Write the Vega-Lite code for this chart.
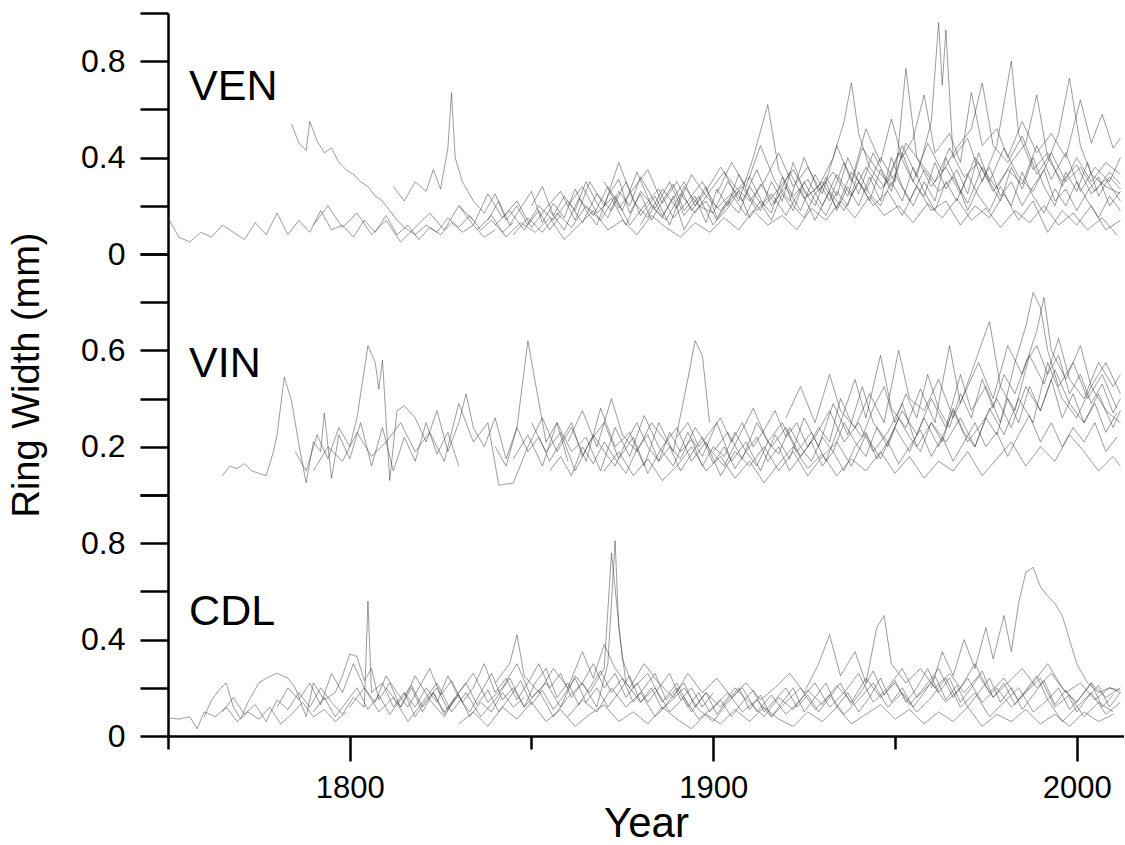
{
"$schema":"https://vega.github.io/schema/vega-lite/v6.json",
"background":"white",
"padding":{"left":8,"top":11,"right":0,"bottom":0},
"spacing":0,
"bounds":"flush",
"config":{"view":{"stroke":null},"line":{"color":"#3a3a3a","opacity":0.5,"strokeWidth":1},"axis":{"domainColor":"black","domainWidth":2.5,"tickColor":"black","tickWidth":2.5,"grid":false,"labelColor":"black","labelFont":"Liberation Sans","labelFontSize":32,"titleFont":"Liberation Sans","titleFontWeight":"normal","titleColor":"black"}},
"datasets":{
"ven":[
{"s":"a","t":1750,"v":0.15},{"s":"a","t":1753,"v":0.07},{"s":"a","t":1756,"v":0.05},{"s":"a","t":1759,"v":0.09},{"s":"a","t":1762,"v":0.07},{"s":"a","t":1765,"v":0.12},{"s":"a","t":1768,"v":0.09},{"s":"a","t":1771,"v":0.06},{"s":"a","t":1774,"v":0.13},{"s":"a","t":1777,"v":0.08},{"s":"a","t":1780,"v":0.17},{"s":"a","t":1783,"v":0.08},{"s":"a","t":1786,"v":0.14},{"s":"a","t":1789,"v":0.09},{"s":"a","t":1792,"v":0.18},{"s":"a","t":1795,"v":0.1},{"s":"a","t":1798,"v":0.12},{"s":"a","t":1801,"v":0.07},{"s":"a","t":1804,"v":0.14},{"s":"a","t":1807,"v":0.09},{"s":"a","t":1810,"v":0.16},{"s":"a","t":1813,"v":0.08},{"s":"a","t":1816,"v":0.12},{"s":"a","t":1819,"v":0.06},{"s":"a","t":1822,"v":0.11},{"s":"a","t":1825,"v":0.08},{"s":"a","t":1828,"v":0.13},{"s":"a","t":1831,"v":0.09},{"s":"a","t":1834,"v":0.12},{"s":"a","t":1837,"v":0.07},{"s":"a","t":1840,"v":0.1},
{"s":"b","t":1784,"v":0.54},{"s":"b","t":1786,"v":0.46},{"s":"b","t":1788,"v":0.43},{"s":"b","t":1789,"v":0.55},{"s":"b","t":1791,"v":0.47},{"s":"b","t":1793,"v":0.42},{"s":"b","t":1795,"v":0.44},{"s":"b","t":1797,"v":0.38},{"s":"b","t":1799,"v":0.35},{"s":"b","t":1801,"v":0.33},{"s":"b","t":1803,"v":0.3},{"s":"b","t":1805,"v":0.28},{"s":"b","t":1807,"v":0.24},{"s":"b","t":1809,"v":0.22},{"s":"b","t":1811,"v":0.18},{"s":"b","t":1813,"v":0.14},{"s":"b","t":1815,"v":0.11},{"s":"b","t":1818,"v":0.08},{"s":"b","t":1821,"v":0.12},{"s":"b","t":1824,"v":0.09},{"s":"b","t":1827,"v":0.15},{"s":"b","t":1830,"v":0.11},{"s":"b","t":1833,"v":0.16},{"s":"b","t":1836,"v":0.1},{"s":"b","t":1839,"v":0.14},{"s":"b","t":1842,"v":0.09},{"s":"b","t":1845,"v":0.13},
{"s":"c","t":1812,"v":0.28},{"s":"c","t":1815,"v":0.22},{"s":"c","t":1818,"v":0.3},{"s":"c","t":1821,"v":0.26},{"s":"c","t":1823,"v":0.35},{"s":"c","t":1825,"v":0.27},{"s":"c","t":1827,"v":0.44},{"s":"c","t":1828,"v":0.67},{"s":"c","t":1829,"v":0.4},{"s":"c","t":1831,"v":0.3},{"s":"c","t":1834,"v":0.22},{"s":"c","t":1837,"v":0.17},{"s":"c","t":1840,"v":0.25},{"s":"c","t":1843,"v":0.14},{"s":"c","t":1846,"v":0.2},{"s":"c","t":1849,"v":0.12},{"s":"c","t":1852,"v":0.18},{"s":"c","t":1855,"v":0.1},{"s":"c","t":1858,"v":0.16},
{"s":"d","t":1790,"v":0.12},{"s":"d","t":1794,"v":0.2},{"s":"d","t":1798,"v":0.11},{"s":"d","t":1802,"v":0.17},{"s":"d","t":1806,"v":0.08},{"s":"d","t":1810,"v":0.14},{"s":"d","t":1814,"v":0.05},{"s":"d","t":1818,"v":0.11},{"s":"d","t":1822,"v":0.17},{"s":"d","t":1826,"v":0.1},{"s":"d","t":1830,"v":0.2},{"s":"d","t":1834,"v":0.14},
{"s":"e","t":1840,"v":0.12},{"s":"e","t":1844,"v":0.18},{"s":"e","t":1848,"v":0.1},{"s":"e","t":1852,"v":0.2},{"s":"e","t":1856,"v":0.14},{"s":"e","t":1860,"v":0.22},{"s":"e","t":1864,"v":0.13},{"s":"e","t":1868,"v":0.25},{"s":"e","t":1872,"v":0.18},{"s":"e","t":1876,"v":0.3},{"s":"e","t":1880,"v":0.16},{"s":"e","t":1884,"v":0.24},{"s":"e","t":1888,"v":0.12},{"s":"e","t":1892,"v":0.28},{"s":"e","t":1896,"v":0.2},{"s":"e","t":1900,"v":0.17},{"s":"e","t":1904,"v":0.3},{"s":"e","t":1908,"v":0.22},{"s":"e","t":1912,"v":0.35},{"s":"e","t":1916,"v":0.2},{"s":"e","t":1920,"v":0.28},{"s":"e","t":1924,"v":0.18},{"s":"e","t":1928,"v":0.33},{"s":"e","t":1932,"v":0.22},{"s":"e","t":1936,"v":0.38},{"s":"e","t":1940,"v":0.25},{"s":"e","t":1944,"v":0.42},{"s":"e","t":1948,"v":0.3},{"s":"e","t":1952,"v":0.45},{"s":"e","t":1956,"v":0.32},{"s":"e","t":1960,"v":0.55},{"s":"e","t":1962,"v":0.96},{"s":"e","t":1963,"v":0.7},{"s":"e","t":1964,"v":0.93},{"s":"e","t":1966,"v":0.4},{"s":"e","t":1970,"v":0.48},{"s":"e","t":1974,"v":0.3},{"s":"e","t":1978,"v":0.45},{"s":"e","t":1982,"v":0.8},{"s":"e","t":1984,"v":0.5},{"s":"e","t":1988,"v":0.35},{"s":"e","t":1992,"v":0.42},{"s":"e","t":1996,"v":0.28},{"s":"e","t":2000,"v":0.4},{"s":"e","t":2004,"v":0.3},{"s":"e","t":2008,"v":0.38},{"s":"e","t":2012,"v":0.33},
{"s":"f","t":1830,"v":0.2},{"s":"f","t":1834,"v":0.12},{"s":"f","t":1838,"v":0.25},{"s":"f","t":1842,"v":0.15},{"s":"f","t":1846,"v":0.22},{"s":"f","t":1850,"v":0.11},{"s":"f","t":1854,"v":0.19},{"s":"f","t":1858,"v":0.26},{"s":"f","t":1862,"v":0.14},{"s":"f","t":1866,"v":0.3},{"s":"f","t":1870,"v":0.2},{"s":"f","t":1874,"v":0.38},{"s":"f","t":1878,"v":0.22},{"s":"f","t":1882,"v":0.15},{"s":"f","t":1886,"v":0.27},{"s":"f","t":1890,"v":0.19},{"s":"f","t":1894,"v":0.33},{"s":"f","t":1898,"v":0.24},{"s":"f","t":1902,"v":0.18},{"s":"f","t":1906,"v":0.26},{"s":"f","t":1910,"v":0.32},{"s":"f","t":1914,"v":0.2},{"s":"f","t":1918,"v":0.27},{"s":"f","t":1922,"v":0.35},{"s":"f","t":1926,"v":0.24},{"s":"f","t":1930,"v":0.3},{"s":"f","t":1934,"v":0.19},{"s":"f","t":1938,"v":0.34},{"s":"f","t":1942,"v":0.26},{"s":"f","t":1946,"v":0.4},{"s":"f","t":1950,"v":0.3},{"s":"f","t":1953,"v":0.77},{"s":"f","t":1956,"v":0.4},{"s":"f","t":1960,"v":0.28},{"s":"f","t":1964,"v":0.36},{"s":"f","t":1968,"v":0.25},{"s":"f","t":1972,"v":0.4},{"s":"f","t":1976,"v":0.3},{"s":"f","t":1980,"v":0.44},{"s":"f","t":1984,"v":0.32},{"s":"f","t":1988,"v":0.26},{"s":"f","t":1992,"v":0.38},{"s":"f","t":1995,"v":0.5},{"s":"f","t":1998,"v":0.73},{"s":"f","t":2001,"v":0.45},{"s":"f","t":2004,"v":0.33},{"s":"f","t":2008,"v":0.28},{"s":"f","t":2012,"v":0.25},
{"s":"g","t":1845,"v":0.08},{"s":"g","t":1849,"v":0.15},{"s":"g","t":1853,"v":0.09},{"s":"g","t":1857,"v":0.17},{"s":"g","t":1861,"v":0.11},{"s":"g","t":1865,"v":0.2},{"s":"g","t":1869,"v":0.14},{"s":"g","t":1873,"v":0.24},{"s":"g","t":1877,"v":0.12},{"s":"g","t":1881,"v":0.2},{"s":"g","t":1885,"v":0.27},{"s":"g","t":1889,"v":0.15},{"s":"g","t":1893,"v":0.22},{"s":"g","t":1897,"v":0.3},{"s":"g","t":1901,"v":0.19},{"s":"g","t":1905,"v":0.25},{"s":"g","t":1909,"v":0.16},{"s":"g","t":1913,"v":0.29},{"s":"g","t":1917,"v":0.21},{"s":"g","t":1921,"v":0.34},{"s":"g","t":1925,"v":0.23},{"s":"g","t":1929,"v":0.28},{"s":"g","t":1933,"v":0.4},{"s":"g","t":1936,"v":0.55},{"s":"g","t":1938,"v":0.71},{"s":"g","t":1940,"v":0.5},{"s":"g","t":1943,"v":0.36},{"s":"g","t":1947,"v":0.28},{"s":"g","t":1951,"v":0.42},{"s":"g","t":1955,"v":0.3},{"s":"g","t":1959,"v":0.46},{"s":"g","t":1963,"v":0.34},{"s":"g","t":1967,"v":0.44},{"s":"g","t":1971,"v":0.52},{"s":"g","t":1974,"v":0.71},{"s":"g","t":1977,"v":0.45},{"s":"g","t":1981,"v":0.38},{"s":"g","t":1985,"v":0.49},{"s":"g","t":1989,"v":0.33},{"s":"g","t":1993,"v":0.42},{"s":"g","t":1997,"v":0.3},{"s":"g","t":2001,"v":0.36},{"s":"g","t":2005,"v":0.26},{"s":"g","t":2009,"v":0.34},{"s":"g","t":2012,"v":0.29},
{"s":"h","t":1855,"v":0.18},{"s":"h","t":1859,"v":0.1},{"s":"h","t":1863,"v":0.23},{"s":"h","t":1867,"v":0.16},{"s":"h","t":1871,"v":0.28},{"s":"h","t":1875,"v":0.18},{"s":"h","t":1879,"v":0.34},{"s":"h","t":1883,"v":0.2},{"s":"h","t":1887,"v":0.14},{"s":"h","t":1891,"v":0.25},{"s":"h","t":1895,"v":0.17},{"s":"h","t":1899,"v":0.26},{"s":"h","t":1903,"v":0.34},{"s":"h","t":1907,"v":0.22},{"s":"h","t":1911,"v":0.4},{"s":"h","t":1915,"v":0.62},{"s":"h","t":1918,"v":0.35},{"s":"h","t":1922,"v":0.24},{"s":"h","t":1926,"v":0.31},{"s":"h","t":1930,"v":0.2},{"s":"h","t":1934,"v":0.33},{"s":"h","t":1938,"v":0.24},{"s":"h","t":1942,"v":0.36},{"s":"h","t":1946,"v":0.27},{"s":"h","t":1950,"v":0.33},{"s":"h","t":1954,"v":0.22},{"s":"h","t":1958,"v":0.35},{"s":"h","t":1962,"v":0.26},{"s":"h","t":1966,"v":0.32},{"s":"h","t":1970,"v":0.21},{"s":"h","t":1974,"v":0.36},{"s":"h","t":1978,"v":0.27},{"s":"h","t":1982,"v":0.38},{"s":"h","t":1986,"v":0.46},{"s":"h","t":1989,"v":0.66},{"s":"h","t":1992,"v":0.4},{"s":"h","t":1996,"v":0.3},{"s":"h","t":2000,"v":0.37},{"s":"h","t":2004,"v":0.25},{"s":"h","t":2008,"v":0.31},{"s":"h","t":2012,"v":0.22},
{"s":"i","t":1870,"v":0.3},{"s":"i","t":1874,"v":0.19},{"s":"i","t":1878,"v":0.27},{"s":"i","t":1882,"v":0.35},{"s":"i","t":1886,"v":0.21},{"s":"i","t":1890,"v":0.3},{"s":"i","t":1894,"v":0.18},{"s":"i","t":1898,"v":0.26},{"s":"i","t":1902,"v":0.36},{"s":"i","t":1906,"v":0.28},{"s":"i","t":1910,"v":0.22},{"s":"i","t":1914,"v":0.3},{"s":"i","t":1918,"v":0.42},{"s":"i","t":1922,"v":0.28},{"s":"i","t":1926,"v":0.36},{"s":"i","t":1930,"v":0.25},{"s":"i","t":1934,"v":0.45},{"s":"i","t":1938,"v":0.3},{"s":"i","t":1942,"v":0.52},{"s":"i","t":1946,"v":0.38},{"s":"i","t":1949,"v":0.56},{"s":"i","t":1952,"v":0.4},{"s":"i","t":1955,"v":0.48},{"s":"i","t":1958,"v":0.66},{"s":"i","t":1961,"v":0.42},{"s":"i","t":1965,"v":0.5},{"s":"i","t":1968,"v":0.38},{"s":"i","t":1971,"v":0.67},{"s":"i","t":1974,"v":0.45},{"s":"i","t":1978,"v":0.52},{"s":"i","t":1981,"v":0.4},{"s":"i","t":1985,"v":0.55},{"s":"i","t":1989,"v":0.42},{"s":"i","t":1993,"v":0.5},{"s":"i","t":1997,"v":0.4},{"s":"i","t":2001,"v":0.64},{"s":"i","t":2004,"v":0.46},{"s":"i","t":2007,"v":0.58},{"s":"i","t":2010,"v":0.44},{"s":"i","t":2012,"v":0.48},
{"s":"j","t":1835,"v":0.1},{"s":"j","t":1839,"v":0.16},{"s":"j","t":1843,"v":0.07},{"s":"j","t":1847,"v":0.13},{"s":"j","t":1851,"v":0.09},{"s":"j","t":1855,"v":0.15},{"s":"j","t":1859,"v":0.06},{"s":"j","t":1863,"v":0.12},{"s":"j","t":1867,"v":0.18},{"s":"j","t":1871,"v":0.1},{"s":"j","t":1875,"v":0.14},{"s":"j","t":1879,"v":0.08},{"s":"j","t":1883,"v":0.16},{"s":"j","t":1887,"v":0.11},{"s":"j","t":1891,"v":0.07},{"s":"j","t":1895,"v":0.13},{"s":"j","t":1899,"v":0.09},{"s":"j","t":1903,"v":0.15},{"s":"j","t":1907,"v":0.1},{"s":"j","t":1911,"v":0.18},{"s":"j","t":1915,"v":0.12},{"s":"j","t":1919,"v":0.16},{"s":"j","t":1923,"v":0.1},{"s":"j","t":1927,"v":0.19},{"s":"j","t":1931,"v":0.14},{"s":"j","t":1935,"v":0.22},{"s":"j","t":1939,"v":0.15},{"s":"j","t":1943,"v":0.24},{"s":"j","t":1947,"v":0.16},{"s":"j","t":1951,"v":0.2},{"s":"j","t":1955,"v":0.13},{"s":"j","t":1959,"v":0.21},{"s":"j","t":1963,"v":0.15},{"s":"j","t":1967,"v":0.23},{"s":"j","t":1971,"v":0.14},{"s":"j","t":1975,"v":0.19},{"s":"j","t":1979,"v":0.11},{"s":"j","t":1983,"v":0.18},{"s":"j","t":1987,"v":0.13},{"s":"j","t":1991,"v":0.2},{"s":"j","t":1995,"v":0.12},{"s":"j","t":1999,"v":0.17},{"s":"j","t":2003,"v":0.1},{"s":"j","t":2007,"v":0.15},{"s":"j","t":2011,"v":0.08},
{"s":"k","t":1860,"v":0.2},{"s":"k","t":1864,"v":0.28},{"s":"k","t":1868,"v":0.17},{"s":"k","t":1872,"v":0.23},{"s":"k","t":1876,"v":0.12},{"s":"k","t":1880,"v":0.26},{"s":"k","t":1884,"v":0.19},{"s":"k","t":1888,"v":0.3},{"s":"k","t":1892,"v":0.16},{"s":"k","t":1896,"v":0.24},{"s":"k","t":1900,"v":0.12},{"s":"k","t":1904,"v":0.21},{"s":"k","t":1908,"v":0.28},{"s":"k","t":1912,"v":0.18},{"s":"k","t":1916,"v":0.25},{"s":"k","t":1920,"v":0.16},{"s":"k","t":1924,"v":0.27},{"s":"k","t":1928,"v":0.14},{"s":"k","t":1932,"v":0.26},{"s":"k","t":1936,"v":0.18},{"s":"k","t":1940,"v":0.3},{"s":"k","t":1944,"v":0.2},{"s":"k","t":1948,"v":0.26},{"s":"k","t":1952,"v":0.16},{"s":"k","t":1956,"v":0.28},{"s":"k","t":1960,"v":0.18},{"s":"k","t":1964,"v":0.22},{"s":"k","t":1968,"v":0.12},{"s":"k","t":1972,"v":0.2},{"s":"k","t":1976,"v":0.15},{"s":"k","t":1980,"v":0.25},{"s":"k","t":1984,"v":0.14},{"s":"k","t":1988,"v":0.22},{"s":"k","t":1992,"v":0.09},{"s":"k","t":1996,"v":0.18},{"s":"k","t":2000,"v":0.12},{"s":"k","t":2004,"v":0.2},{"s":"k","t":2008,"v":0.1},{"s":"k","t":2012,"v":0.14},
{"s":"l","t":1901,"v":0.25},{"s":"l","t":1905,"v":0.38},{"s":"l","t":1909,"v":0.28},{"s":"l","t":1913,"v":0.45},{"s":"l","t":1917,"v":0.3},{"s":"l","t":1921,"v":0.22},{"s":"l","t":1925,"v":0.4},{"s":"l","t":1929,"v":0.26},{"s":"l","t":1933,"v":0.34},{"s":"l","t":1937,"v":0.24},{"s":"l","t":1941,"v":0.44},{"s":"l","t":1945,"v":0.35},{"s":"l","t":1949,"v":0.28},{"s":"l","t":1953,"v":0.46},{"s":"l","t":1957,"v":0.38},{"s":"l","t":1961,"v":0.3},{"s":"l","t":1965,"v":0.44},{"s":"l","t":1969,"v":0.32},{"s":"l","t":1973,"v":0.38},{"s":"l","t":1977,"v":0.26},{"s":"l","t":1981,"v":0.35},{"s":"l","t":1985,"v":0.29},{"s":"l","t":1989,"v":0.45},{"s":"l","t":1993,"v":0.31},{"s":"l","t":1997,"v":0.42},{"s":"l","t":2001,"v":0.26},{"s":"l","t":2005,"v":0.36},{"s":"l","t":2009,"v":0.3},{"s":"l","t":2012,"v":0.4},
{"s":"m","t":1838,"v":0.14},{"s":"m","t":1841,"v":0.22},{"s":"m","t":1844,"v":0.12},{"s":"m","t":1847,"v":0.19},{"s":"m","t":1850,"v":0.26},{"s":"m","t":1853,"v":0.13},{"s":"m","t":1856,"v":0.21},{"s":"m","t":1859,"v":0.15},{"s":"m","t":1862,"v":0.27},{"s":"m","t":1865,"v":0.18},{"s":"m","t":1868,"v":0.12},{"s":"m","t":1871,"v":0.24},{"s":"m","t":1874,"v":0.31},{"s":"m","t":1877,"v":0.17},{"s":"m","t":1880,"v":0.25},{"s":"m","t":1883,"v":0.14},{"s":"m","t":1886,"v":0.22},{"s":"m","t":1889,"v":0.29},{"s":"m","t":1892,"v":0.18},{"s":"m","t":1895,"v":0.24},{"s":"m","t":1898,"v":0.13},{"s":"m","t":1901,"v":0.27},{"s":"m","t":1904,"v":0.2},{"s":"m","t":1907,"v":0.33},{"s":"m","t":1910,"v":0.24},{"s":"m","t":1913,"v":0.18},{"s":"m","t":1916,"v":0.3},{"s":"m","t":1919,"v":0.22},{"s":"m","t":1922,"v":0.38},{"s":"m","t":1925,"v":0.26},{"s":"m","t":1928,"v":0.2},{"s":"m","t":1931,"v":0.32},{"s":"m","t":1934,"v":0.24},{"s":"m","t":1937,"v":0.4},{"s":"m","t":1940,"v":0.3},{"s":"m","t":1943,"v":0.22},{"s":"m","t":1946,"v":0.35},{"s":"m","t":1949,"v":0.26},{"s":"m","t":1952,"v":0.42},{"s":"m","t":1955,"v":0.3},{"s":"m","t":1958,"v":0.24},{"s":"m","t":1961,"v":0.38},{"s":"m","t":1964,"v":0.27},{"s":"m","t":1967,"v":0.35},{"s":"m","t":1970,"v":0.25},{"s":"m","t":1973,"v":0.42},{"s":"m","t":1976,"v":0.3},{"s":"m","t":1979,"v":0.22},{"s":"m","t":1982,"v":0.36},{"s":"m","t":1985,"v":0.27},{"s":"m","t":1988,"v":0.4},{"s":"m","t":1991,"v":0.28},{"s":"m","t":1994,"v":0.2},{"s":"m","t":1997,"v":0.34},{"s":"m","t":2000,"v":0.26},{"s":"m","t":2003,"v":0.38},{"s":"m","t":2006,"v":0.24},{"s":"m","t":2009,"v":0.32},{"s":"m","t":2012,"v":0.27},
{"s":"n","t":1850,"v":0.2},{"s":"n","t":1853,"v":0.28},{"s":"n","t":1856,"v":0.16},{"s":"n","t":1859,"v":0.24},{"s":"n","t":1862,"v":0.18},{"s":"n","t":1865,"v":0.3},{"s":"n","t":1868,"v":0.21},{"s":"n","t":1871,"v":0.15},{"s":"n","t":1874,"v":0.26},{"s":"n","t":1877,"v":0.2},{"s":"n","t":1880,"v":0.32},{"s":"n","t":1883,"v":0.24},{"s":"n","t":1886,"v":0.16},{"s":"n","t":1889,"v":0.23},{"s":"n","t":1892,"v":0.3},{"s":"n","t":1895,"v":0.2},{"s":"n","t":1898,"v":0.28},{"s":"n","t":1901,"v":0.15},{"s":"n","t":1904,"v":0.22},{"s":"n","t":1907,"v":0.17},{"s":"n","t":1910,"v":0.28},{"s":"n","t":1913,"v":0.21},{"s":"n","t":1916,"v":0.14},{"s":"n","t":1919,"v":0.25},{"s":"n","t":1922,"v":0.18},{"s":"n","t":1925,"v":0.3},{"s":"n","t":1928,"v":0.22},{"s":"n","t":1931,"v":0.16},{"s":"n","t":1934,"v":0.26},{"s":"n","t":1937,"v":0.2},{"s":"n","t":1940,"v":0.34},{"s":"n","t":1943,"v":0.25},{"s":"n","t":1946,"v":0.2},{"s":"n","t":1949,"v":0.3},{"s":"n","t":1952,"v":0.22},{"s":"n","t":1955,"v":0.36},{"s":"n","t":1958,"v":0.26},{"s":"n","t":1961,"v":0.18},{"s":"n","t":1964,"v":0.3},{"s":"n","t":1967,"v":0.22},{"s":"n","t":1970,"v":0.33},{"s":"n","t":1973,"v":0.24},{"s":"n","t":1976,"v":0.18},{"s":"n","t":1979,"v":0.28},{"s":"n","t":1982,"v":0.2},{"s":"n","t":1985,"v":0.34},{"s":"n","t":1988,"v":0.24},{"s":"n","t":1991,"v":0.17},{"s":"n","t":1994,"v":0.27},{"s":"n","t":1997,"v":0.2},{"s":"n","t":2000,"v":0.3},{"s":"n","t":2003,"v":0.22},{"s":"n","t":2006,"v":0.15},{"s":"n","t":2009,"v":0.24},{"s":"n","t":2012,"v":0.18},
{"s":"o","t":1880,"v":0.12},{"s":"o","t":1883,"v":0.2},{"s":"o","t":1886,"v":0.15},{"s":"o","t":1889,"v":0.24},{"s":"o","t":1892,"v":0.1},{"s":"o","t":1895,"v":0.18},{"s":"o","t":1898,"v":0.22},{"s":"o","t":1901,"v":0.14},{"s":"o","t":1904,"v":0.19},{"s":"o","t":1907,"v":0.26},{"s":"o","t":1910,"v":0.15},{"s":"o","t":1913,"v":0.22},{"s":"o","t":1916,"v":0.17},{"s":"o","t":1919,"v":0.32},{"s":"o","t":1922,"v":0.2},{"s":"o","t":1925,"v":0.15},{"s":"o","t":1928,"v":0.25},{"s":"o","t":1931,"v":0.3},{"s":"o","t":1934,"v":0.18},{"s":"o","t":1937,"v":0.28},{"s":"o","t":1940,"v":0.2},{"s":"o","t":1943,"v":0.32},{"s":"o","t":1946,"v":0.22},{"s":"o","t":1949,"v":0.4},{"s":"o","t":1952,"v":0.28},{"s":"o","t":1955,"v":0.2},{"s":"o","t":1958,"v":0.3},{"s":"o","t":1961,"v":0.22},{"s":"o","t":1964,"v":0.4},{"s":"o","t":1967,"v":0.3},{"s":"o","t":1970,"v":0.18},{"s":"o","t":1973,"v":0.28},{"s":"o","t":1976,"v":0.36},{"s":"o","t":1979,"v":0.24},{"s":"o","t":1982,"v":0.3},{"s":"o","t":1985,"v":0.2},{"s":"o","t":1988,"v":0.28},{"s":"o","t":1991,"v":0.35},{"s":"o","t":1994,"v":0.22},{"s":"o","t":1997,"v":0.27},{"s":"o","t":2000,"v":0.18},{"s":"o","t":2003,"v":0.26},{"s":"o","t":2006,"v":0.32},{"s":"o","t":2009,"v":0.2},{"s":"o","t":2012,"v":0.26}
],
"vin":[
{"s":"a","t":1765,"v":0.08},{"s":"a","t":1767,"v":0.12},{"s":"a","t":1769,"v":0.11},{"s":"a","t":1771,"v":0.13},{"s":"a","t":1773,"v":0.1},{"s":"a","t":1775,"v":0.09},{"s":"a","t":1777,"v":0.08},{"s":"a","t":1779,"v":0.18},{"s":"a","t":1780,"v":0.25},{"s":"a","t":1782,"v":0.49},{"s":"a","t":1784,"v":0.39},{"s":"a","t":1786,"v":0.21},{"s":"a","t":1788,"v":0.05},{"s":"a","t":1790,"v":0.22},{"s":"a","t":1792,"v":0.18},{"s":"a","t":1793,"v":0.34},{"s":"a","t":1795,"v":0.07},{"s":"a","t":1797,"v":0.25},{"s":"a","t":1800,"v":0.15},{"s":"a","t":1803,"v":0.3},{"s":"a","t":1806,"v":0.12},{"s":"a","t":1809,"v":0.28},{"s":"a","t":1812,"v":0.1},{"s":"a","t":1815,"v":0.24},{"s":"a","t":1818,"v":0.14},{"s":"a","t":1821,"v":0.3},{"s":"a","t":1824,"v":0.17},{"s":"a","t":1827,"v":0.26},{"s":"a","t":1830,"v":0.12},
{"s":"b","t":1785,"v":0.18},{"s":"b","t":1788,"v":0.1},{"s":"b","t":1791,"v":0.25},{"s":"b","t":1794,"v":0.15},{"s":"b","t":1797,"v":0.28},{"s":"b","t":1800,"v":0.2},{"s":"b","t":1802,"v":0.32},{"s":"b","t":1805,"v":0.62},{"s":"b","t":1807,"v":0.55},{"s":"b","t":1808,"v":0.44},{"s":"b","t":1809,"v":0.56},{"s":"b","t":1811,"v":0.06},{"s":"b","t":1813,"v":0.35},{"s":"b","t":1815,"v":0.37},{"s":"b","t":1818,"v":0.32},{"s":"b","t":1821,"v":0.22},{"s":"b","t":1824,"v":0.35},{"s":"b","t":1827,"v":0.18},{"s":"b","t":1830,"v":0.3},{"s":"b","t":1832,"v":0.42},{"s":"b","t":1834,"v":0.28},{"s":"b","t":1837,"v":0.2},{"s":"b","t":1840,"v":0.32},{"s":"b","t":1843,"v":0.15},{"s":"b","t":1846,"v":0.28},{"s":"b","t":1849,"v":0.64},{"s":"b","t":1851,"v":0.47},{"s":"b","t":1854,"v":0.22},{"s":"b","t":1857,"v":0.3},{"s":"b","t":1860,"v":0.14},
{"s":"c","t":1790,"v":0.1},{"s":"c","t":1794,"v":0.2},{"s":"c","t":1798,"v":0.14},{"s":"c","t":1802,"v":0.26},{"s":"c","t":1806,"v":0.16},{"s":"c","t":1810,"v":0.22},{"s":"c","t":1814,"v":0.3},{"s":"c","t":1818,"v":0.18},{"s":"c","t":1822,"v":0.26},{"s":"c","t":1826,"v":0.14},{"s":"c","t":1830,"v":0.38},{"s":"c","t":1834,"v":0.22},{"s":"c","t":1838,"v":0.3},{"s":"c","t":1841,"v":0.04},{"s":"c","t":1845,"v":0.05},{"s":"c","t":1849,"v":0.2},{"s":"c","t":1853,"v":0.32},{"s":"c","t":1857,"v":0.18},{"s":"c","t":1861,"v":0.28},{"s":"c","t":1865,"v":0.14},{"s":"c","t":1869,"v":0.36},{"s":"c","t":1873,"v":0.2},{"s":"c","t":1877,"v":0.26},{"s":"c","t":1881,"v":0.12},{"s":"c","t":1885,"v":0.3},{"s":"c","t":1889,"v":0.18},{"s":"c","t":1893,"v":0.48},{"s":"c","t":1895,"v":0.64},{"s":"c","t":1897,"v":0.58},{"s":"c","t":1899,"v":0.3},
{"s":"d","t":1845,"v":0.15},{"s":"d","t":1849,"v":0.25},{"s":"d","t":1853,"v":0.12},{"s":"d","t":1857,"v":0.3},{"s":"d","t":1861,"v":0.18},{"s":"d","t":1865,"v":0.24},{"s":"d","t":1869,"v":0.1},{"s":"d","t":1873,"v":0.28},{"s":"d","t":1877,"v":0.16},{"s":"d","t":1881,"v":0.33},{"s":"d","t":1885,"v":0.2},{"s":"d","t":1889,"v":0.12},{"s":"d","t":1893,"v":0.26},{"s":"d","t":1897,"v":0.16},{"s":"d","t":1901,"v":0.3},{"s":"d","t":1905,"v":0.14},{"s":"d","t":1909,"v":0.22},{"s":"d","t":1913,"v":0.1},{"s":"d","t":1917,"v":0.25},{"s":"d","t":1921,"v":0.15},{"s":"d","t":1925,"v":0.32},{"s":"d","t":1929,"v":0.2},{"s":"d","t":1933,"v":0.38},{"s":"d","t":1937,"v":0.25},{"s":"d","t":1941,"v":0.45},{"s":"d","t":1944,"v":0.3},{"s":"d","t":1948,"v":0.22},{"s":"d","t":1952,"v":0.35},{"s":"d","t":1956,"v":0.25},{"s":"d","t":1960,"v":0.4},{"s":"d","t":1964,"v":0.28},{"s":"d","t":1968,"v":0.5},{"s":"d","t":1971,"v":0.35},{"s":"d","t":1975,"v":0.45},{"s":"d","t":1979,"v":0.3},{"s":"d","t":1983,"v":0.55},{"s":"d","t":1986,"v":0.7},{"s":"d","t":1988,"v":0.84},{"s":"d","t":1990,"v":0.78},{"s":"d","t":1992,"v":0.6},{"s":"d","t":1995,"v":0.45},{"s":"d","t":1999,"v":0.55},{"s":"d","t":2003,"v":0.4},{"s":"d","t":2007,"v":0.5},{"s":"d","t":2011,"v":0.36},
{"s":"e","t":1850,"v":0.3},{"s":"e","t":1854,"v":0.18},{"s":"e","t":1858,"v":0.26},{"s":"e","t":1862,"v":0.1},{"s":"e","t":1866,"v":0.22},{"s":"e","t":1870,"v":0.3},{"s":"e","t":1874,"v":0.15},{"s":"e","t":1878,"v":0.24},{"s":"e","t":1882,"v":0.09},{"s":"e","t":1886,"v":0.2},{"s":"e","t":1890,"v":0.28},{"s":"e","t":1894,"v":0.14},{"s":"e","t":1898,"v":0.22},{"s":"e","t":1902,"v":0.08},{"s":"e","t":1906,"v":0.18},{"s":"e","t":1910,"v":0.12},{"s":"e","t":1914,"v":0.2},{"s":"e","t":1918,"v":0.1},{"s":"e","t":1922,"v":0.18},{"s":"e","t":1926,"v":0.08},{"s":"e","t":1930,"v":0.16},{"s":"e","t":1934,"v":0.22},{"s":"e","t":1938,"v":0.12},{"s":"e","t":1942,"v":0.25},{"s":"e","t":1946,"v":0.15},{"s":"e","t":1950,"v":0.28},{"s":"e","t":1954,"v":0.18},{"s":"e","t":1958,"v":0.32},{"s":"e","t":1962,"v":0.2},{"s":"e","t":1966,"v":0.35},{"s":"e","t":1970,"v":0.22},{"s":"e","t":1974,"v":0.3},{"s":"e","t":1978,"v":0.4},{"s":"e","t":1982,"v":0.28},{"s":"e","t":1986,"v":0.45},{"s":"e","t":1990,"v":0.35},{"s":"e","t":1994,"v":0.52},{"s":"e","t":1998,"v":0.38},{"s":"e","t":2002,"v":0.3},{"s":"e","t":2006,"v":0.42},{"s":"e","t":2010,"v":0.28},{"s":"e","t":2012,"v":0.35},
{"s":"f","t":1860,"v":0.22},{"s":"f","t":1864,"v":0.35},{"s":"f","t":1868,"v":0.2},{"s":"f","t":1872,"v":0.4},{"s":"f","t":1875,"v":0.25},{"s":"f","t":1879,"v":0.18},{"s":"f","t":1883,"v":0.3},{"s":"f","t":1887,"v":0.22},{"s":"f","t":1891,"v":0.15},{"s":"f","t":1895,"v":0.28},{"s":"f","t":1899,"v":0.19},{"s":"f","t":1903,"v":0.12},{"s":"f","t":1907,"v":0.24},{"s":"f","t":1911,"v":0.36},{"s":"f","t":1915,"v":0.22},{"s":"f","t":1919,"v":0.3},{"s":"f","t":1923,"v":0.18},{"s":"f","t":1927,"v":0.26},{"s":"f","t":1931,"v":0.14},{"s":"f","t":1935,"v":0.3},{"s":"f","t":1939,"v":0.48},{"s":"f","t":1942,"v":0.32},{"s":"f","t":1946,"v":0.58},{"s":"f","t":1949,"v":0.36},{"s":"f","t":1953,"v":0.28},{"s":"f","t":1957,"v":0.44},{"s":"f","t":1961,"v":0.3},{"s":"f","t":1965,"v":0.62},{"s":"f","t":1968,"v":0.38},{"s":"f","t":1972,"v":0.55},{"s":"f","t":1976,"v":0.72},{"s":"f","t":1979,"v":0.45},{"s":"f","t":1983,"v":0.35},{"s":"f","t":1987,"v":0.58},{"s":"f","t":1991,"v":0.46},{"s":"f","t":1995,"v":0.65},{"s":"f","t":1998,"v":0.48},{"s":"f","t":2002,"v":0.4},{"s":"f","t":2006,"v":0.55},{"s":"f","t":2010,"v":0.45},{"s":"f","t":2012,"v":0.5},
{"s":"g","t":1870,"v":0.1},{"s":"g","t":1874,"v":0.18},{"s":"g","t":1878,"v":0.08},{"s":"g","t":1882,"v":0.15},{"s":"g","t":1886,"v":0.06},{"s":"g","t":1890,"v":0.12},{"s":"g","t":1894,"v":0.2},{"s":"g","t":1898,"v":0.1},{"s":"g","t":1902,"v":0.16},{"s":"g","t":1906,"v":0.07},{"s":"g","t":1910,"v":0.14},{"s":"g","t":1914,"v":0.05},{"s":"g","t":1918,"v":0.13},{"s":"g","t":1922,"v":0.2},{"s":"g","t":1926,"v":0.11},{"s":"g","t":1930,"v":0.17},{"s":"g","t":1934,"v":0.08},{"s":"g","t":1938,"v":0.15},{"s":"g","t":1942,"v":0.1},{"s":"g","t":1946,"v":0.18},{"s":"g","t":1950,"v":0.09},{"s":"g","t":1954,"v":0.16},{"s":"g","t":1958,"v":0.07},{"s":"g","t":1962,"v":0.14},{"s":"g","t":1966,"v":0.1},{"s":"g","t":1970,"v":0.18},{"s":"g","t":1974,"v":0.08},{"s":"g","t":1978,"v":0.15},{"s":"g","t":1982,"v":0.22},{"s":"g","t":1986,"v":0.12},{"s":"g","t":1990,"v":0.2},{"s":"g","t":1994,"v":0.14},{"s":"g","t":1998,"v":0.25},{"s":"g","t":2002,"v":0.18},{"s":"g","t":2006,"v":0.1},{"s":"g","t":2010,"v":0.16},{"s":"g","t":2012,"v":0.12},
{"s":"h","t":1900,"v":0.18},{"s":"h","t":1904,"v":0.26},{"s":"h","t":1908,"v":0.15},{"s":"h","t":1912,"v":0.3},{"s":"h","t":1916,"v":0.2},{"s":"h","t":1920,"v":0.28},{"s":"h","t":1924,"v":0.16},{"s":"h","t":1928,"v":0.24},{"s":"h","t":1932,"v":0.35},{"s":"h","t":1936,"v":0.22},{"s":"h","t":1940,"v":0.3},{"s":"h","t":1944,"v":0.18},{"s":"h","t":1948,"v":0.26},{"s":"h","t":1952,"v":0.38},{"s":"h","t":1956,"v":0.2},{"s":"h","t":1960,"v":0.3},{"s":"h","t":1964,"v":0.22},{"s":"h","t":1968,"v":0.32},{"s":"h","t":1972,"v":0.2},{"s":"h","t":1976,"v":0.36},{"s":"h","t":1980,"v":0.25},{"s":"h","t":1984,"v":0.4},{"s":"h","t":1988,"v":0.3},{"s":"h","t":1992,"v":0.55},{"s":"h","t":1996,"v":0.4},{"s":"h","t":2000,"v":0.32},{"s":"h","t":2004,"v":0.45},{"s":"h","t":2008,"v":0.35},{"s":"h","t":2012,"v":0.3},
{"s":"i","t":1920,"v":0.32},{"s":"i","t":1924,"v":0.45},{"s":"i","t":1928,"v":0.3},{"s":"i","t":1932,"v":0.5},{"s":"i","t":1935,"v":0.35},{"s":"i","t":1939,"v":0.28},{"s":"i","t":1943,"v":0.42},{"s":"i","t":1947,"v":0.3},{"s":"i","t":1951,"v":0.6},{"s":"i","t":1954,"v":0.4},{"s":"i","t":1958,"v":0.35},{"s":"i","t":1962,"v":0.48},{"s":"i","t":1966,"v":0.32},{"s":"i","t":1970,"v":0.45},{"s":"i","t":1973,"v":0.55},{"s":"i","t":1977,"v":0.4},{"s":"i","t":1981,"v":0.62},{"s":"i","t":1985,"v":0.5},{"s":"i","t":1989,"v":0.68},{"s":"i","t":1991,"v":0.82},{"s":"i","t":1993,"v":0.6},{"s":"i","t":1997,"v":0.48},{"s":"i","t":2001,"v":0.62},{"s":"i","t":2004,"v":0.45},{"s":"i","t":2008,"v":0.55},{"s":"i","t":2012,"v":0.42},
{"s":"j","t":1840,"v":0.2},{"s":"j","t":1843,"v":0.12},{"s":"j","t":1846,"v":0.28},{"s":"j","t":1849,"v":0.18},{"s":"j","t":1852,"v":0.24},{"s":"j","t":1855,"v":0.14},{"s":"j","t":1858,"v":0.22},{"s":"j","t":1861,"v":0.3},{"s":"j","t":1864,"v":0.16},{"s":"j","t":1867,"v":0.25},{"s":"j","t":1870,"v":0.18},{"s":"j","t":1873,"v":0.12},{"s":"j","t":1876,"v":0.22},{"s":"j","t":1879,"v":0.3},{"s":"j","t":1882,"v":0.2},{"s":"j","t":1885,"v":0.14},{"s":"j","t":1888,"v":0.26},{"s":"j","t":1891,"v":0.18},{"s":"j","t":1894,"v":0.23},{"s":"j","t":1897,"v":0.12},{"s":"j","t":1900,"v":0.2},{"s":"j","t":1903,"v":0.16},{"s":"j","t":1906,"v":0.26},{"s":"j","t":1909,"v":0.18},{"s":"j","t":1912,"v":0.12},{"s":"j","t":1915,"v":0.22},{"s":"j","t":1918,"v":0.17},{"s":"j","t":1921,"v":0.28},{"s":"j","t":1924,"v":0.2},{"s":"j","t":1927,"v":0.14},{"s":"j","t":1930,"v":0.24},{"s":"j","t":1933,"v":0.18},{"s":"j","t":1936,"v":0.3},{"s":"j","t":1939,"v":0.22},{"s":"j","t":1942,"v":0.16},{"s":"j","t":1945,"v":0.28},{"s":"j","t":1948,"v":0.2},{"s":"j","t":1951,"v":0.32},{"s":"j","t":1954,"v":0.24},{"s":"j","t":1957,"v":0.18},{"s":"j","t":1960,"v":0.3},{"s":"j","t":1963,"v":0.22},{"s":"j","t":1966,"v":0.36},{"s":"j","t":1969,"v":0.26},{"s":"j","t":1972,"v":0.2},{"s":"j","t":1975,"v":0.32},{"s":"j","t":1978,"v":0.25},{"s":"j","t":1981,"v":0.4},{"s":"j","t":1984,"v":0.3},{"s":"j","t":1987,"v":0.45},{"s":"j","t":1990,"v":0.35},{"s":"j","t":1993,"v":0.48},{"s":"j","t":1996,"v":0.32},{"s":"j","t":1999,"v":0.42},{"s":"j","t":2002,"v":0.3},{"s":"j","t":2005,"v":0.38},{"s":"j","t":2008,"v":0.26},{"s":"j","t":2011,"v":0.34},
{"s":"k","t":1855,"v":0.1},{"s":"k","t":1858,"v":0.16},{"s":"k","t":1861,"v":0.08},{"s":"k","t":1864,"v":0.2},{"s":"k","t":1867,"v":0.13},{"s":"k","t":1870,"v":0.22},{"s":"k","t":1873,"v":0.15},{"s":"k","t":1876,"v":0.09},{"s":"k","t":1879,"v":0.19},{"s":"k","t":1882,"v":0.25},{"s":"k","t":1885,"v":0.14},{"s":"k","t":1888,"v":0.2},{"s":"k","t":1891,"v":0.1},{"s":"k","t":1894,"v":0.17},{"s":"k","t":1897,"v":0.24},{"s":"k","t":1900,"v":0.13},{"s":"k","t":1903,"v":0.2},{"s":"k","t":1906,"v":0.11},{"s":"k","t":1909,"v":0.18},{"s":"k","t":1912,"v":0.24},{"s":"k","t":1915,"v":0.14},{"s":"k","t":1918,"v":0.2},{"s":"k","t":1921,"v":0.1},{"s":"k","t":1924,"v":0.16},{"s":"k","t":1927,"v":0.22},{"s":"k","t":1930,"v":0.12},{"s":"k","t":1933,"v":0.18},{"s":"k","t":1936,"v":0.1},{"s":"k","t":1939,"v":0.2},{"s":"k","t":1942,"v":0.26},{"s":"k","t":1945,"v":0.15},{"s":"k","t":1948,"v":0.22},{"s":"k","t":1951,"v":0.13},{"s":"k","t":1954,"v":0.2},{"s":"k","t":1957,"v":0.27},{"s":"k","t":1960,"v":0.16},{"s":"k","t":1963,"v":0.24},{"s":"k","t":1966,"v":0.14},{"s":"k","t":1969,"v":0.22},{"s":"k","t":1972,"v":0.3},{"s":"k","t":1975,"v":0.2},{"s":"k","t":1978,"v":0.26},{"s":"k","t":1981,"v":0.16},{"s":"k","t":1984,"v":0.25},{"s":"k","t":1987,"v":0.33},{"s":"k","t":1990,"v":0.22},{"s":"k","t":1993,"v":0.3},{"s":"k","t":1996,"v":0.2},{"s":"k","t":1999,"v":0.28},{"s":"k","t":2002,"v":0.22},{"s":"k","t":2005,"v":0.3},{"s":"k","t":2008,"v":0.18},{"s":"k","t":2011,"v":0.24},
{"s":"l","t":1890,"v":0.24},{"s":"l","t":1893,"v":0.3},{"s":"l","t":1896,"v":0.2},{"s":"l","t":1899,"v":0.26},{"s":"l","t":1902,"v":0.32},{"s":"l","t":1905,"v":0.22},{"s":"l","t":1908,"v":0.3},{"s":"l","t":1911,"v":0.2},{"s":"l","t":1914,"v":0.27},{"s":"l","t":1917,"v":0.35},{"s":"l","t":1920,"v":0.24},{"s":"l","t":1923,"v":0.3},{"s":"l","t":1926,"v":0.2},{"s":"l","t":1929,"v":0.28},{"s":"l","t":1932,"v":0.22},{"s":"l","t":1935,"v":0.4},{"s":"l","t":1938,"v":0.3},{"s":"l","t":1941,"v":0.24},{"s":"l","t":1944,"v":0.36},{"s":"l","t":1947,"v":0.45},{"s":"l","t":1950,"v":0.3},{"s":"l","t":1953,"v":0.42},{"s":"l","t":1956,"v":0.32},{"s":"l","t":1959,"v":0.5},{"s":"l","t":1962,"v":0.36},{"s":"l","t":1965,"v":0.28},{"s":"l","t":1968,"v":0.42},{"s":"l","t":1971,"v":0.32},{"s":"l","t":1974,"v":0.48},{"s":"l","t":1977,"v":0.36},{"s":"l","t":1980,"v":0.5},{"s":"l","t":1983,"v":0.42},{"s":"l","t":1986,"v":0.55},{"s":"l","t":1989,"v":0.62},{"s":"l","t":1992,"v":0.5},{"s":"l","t":1995,"v":0.58},{"s":"l","t":1998,"v":0.42},{"s":"l","t":2001,"v":0.5},{"s":"l","t":2004,"v":0.38},{"s":"l","t":2007,"v":0.46},{"s":"l","t":2010,"v":0.34},{"s":"l","t":2012,"v":0.4}
],
"cdl":[
{"s":"a","t":1750,"v":0.075},{"s":"a","t":1753,"v":0.07},{"s":"a","t":1756,"v":0.08},{"s":"a","t":1758,"v":0.03},{"s":"a","t":1760,"v":0.1},{"s":"a","t":1763,"v":0.08},{"s":"a","t":1766,"v":0.12},{"s":"a","t":1769,"v":0.06},{"s":"a","t":1772,"v":0.1},{"s":"a","t":1775,"v":0.07},{"s":"a","t":1778,"v":0.12},{"s":"a","t":1781,"v":0.05},{"s":"a","t":1784,"v":0.09},{"s":"a","t":1787,"v":0.14},{"s":"a","t":1790,"v":0.08},{"s":"a","t":1793,"v":0.11},{"s":"a","t":1796,"v":0.06},{"s":"a","t":1799,"v":0.1},
{"s":"b","t":1760,"v":0.08},{"s":"b","t":1762,"v":0.15},{"s":"b","t":1764,"v":0.19},{"s":"b","t":1766,"v":0.22},{"s":"b","t":1768,"v":0.12},{"s":"b","t":1770,"v":0.07},{"s":"b","t":1772,"v":0.14},{"s":"b","t":1775,"v":0.22},{"s":"b","t":1777,"v":0.24},{"s":"b","t":1780,"v":0.26},{"s":"b","t":1783,"v":0.24},{"s":"b","t":1785,"v":0.2},{"s":"b","t":1788,"v":0.08},{"s":"b","t":1790,"v":0.22},{"s":"b","t":1793,"v":0.15},{"s":"b","t":1796,"v":0.18},{"s":"b","t":1798,"v":0.25},{"s":"b","t":1800,"v":0.34},{"s":"b","t":1802,"v":0.33},{"s":"b","t":1804,"v":0.23},{"s":"b","t":1806,"v":0.28},{"s":"b","t":1808,"v":0.15},{"s":"b","t":1811,"v":0.22},{"s":"b","t":1814,"v":0.12},{"s":"b","t":1817,"v":0.2},{"s":"b","t":1820,"v":0.1},{"s":"b","t":1823,"v":0.18},{"s":"b","t":1826,"v":0.09},{"s":"b","t":1829,"v":0.16},
{"s":"c","t":1765,"v":0.1},{"s":"c","t":1768,"v":0.16},{"s":"c","t":1771,"v":0.09},{"s":"c","t":1774,"v":0.13},{"s":"c","t":1777,"v":0.06},{"s":"c","t":1780,"v":0.15},{"s":"c","t":1783,"v":0.11},{"s":"c","t":1786,"v":0.18},{"s":"c","t":1789,"v":0.12},{"s":"c","t":1792,"v":0.2},{"s":"c","t":1795,"v":0.14},{"s":"c","t":1798,"v":0.09},{"s":"c","t":1801,"v":0.16},{"s":"c","t":1804,"v":0.12},{"s":"c","t":1805,"v":0.56},{"s":"c","t":1806,"v":0.18},{"s":"c","t":1809,"v":0.22},{"s":"c","t":1812,"v":0.12},{"s":"c","t":1815,"v":0.18},{"s":"c","t":1818,"v":0.08},{"s":"c","t":1821,"v":0.15},{"s":"c","t":1824,"v":0.2},{"s":"c","t":1827,"v":0.11},{"s":"c","t":1830,"v":0.17},{"s":"c","t":1833,"v":0.08},{"s":"c","t":1836,"v":0.14},{"s":"c","t":1839,"v":0.1},{"s":"c","t":1842,"v":0.18},{"s":"c","t":1845,"v":0.12},{"s":"c","t":1848,"v":0.16},
{"s":"d","t":1800,"v":0.12},{"s":"d","t":1804,"v":0.2},{"s":"d","t":1808,"v":0.1},{"s":"d","t":1812,"v":0.16},{"s":"d","t":1816,"v":0.06},{"s":"d","t":1820,"v":0.14},{"s":"d","t":1824,"v":0.22},{"s":"d","t":1828,"v":0.1},{"s":"d","t":1832,"v":0.18},{"s":"d","t":1836,"v":0.08},{"s":"d","t":1840,"v":0.15},{"s":"d","t":1844,"v":0.24},{"s":"d","t":1848,"v":0.12},{"s":"d","t":1852,"v":0.19},{"s":"d","t":1856,"v":0.08},{"s":"d","t":1860,"v":0.16},{"s":"d","t":1864,"v":0.22},{"s":"d","t":1868,"v":0.12},{"s":"d","t":1871,"v":0.3},{"s":"d","t":1873,"v":0.81},{"s":"d","t":1874,"v":0.45},{"s":"d","t":1876,"v":0.22},{"s":"d","t":1880,"v":0.14},{"s":"d","t":1884,"v":0.2},{"s":"d","t":1888,"v":0.1},{"s":"d","t":1892,"v":0.16},{"s":"d","t":1896,"v":0.07},{"s":"d","t":1900,"v":0.12},{"s":"d","t":1904,"v":0.18},{"s":"d","t":1908,"v":0.1},{"s":"d","t":1912,"v":0.15},{"s":"d","t":1916,"v":0.08},{"s":"d","t":1920,"v":0.14},{"s":"d","t":1924,"v":0.2},{"s":"d","t":1928,"v":0.11},{"s":"d","t":1932,"v":0.17},{"s":"d","t":1936,"v":0.09},{"s":"d","t":1940,"v":0.15},{"s":"d","t":1944,"v":0.22},{"s":"d","t":1948,"v":0.12},{"s":"d","t":1952,"v":0.18},{"s":"d","t":1956,"v":0.1},{"s":"d","t":1960,"v":0.16},{"s":"d","t":1964,"v":0.24},{"s":"d","t":1968,"v":0.12},{"s":"d","t":1972,"v":0.18},{"s":"d","t":1976,"v":0.08},{"s":"d","t":1980,"v":0.14},{"s":"d","t":1984,"v":0.2},{"s":"d","t":1988,"v":0.1},{"s":"d","t":1992,"v":0.15},{"s":"d","t":1996,"v":0.06},{"s":"d","t":2000,"v":0.12},{"s":"d","t":2004,"v":0.18},{"s":"d","t":2008,"v":0.09},{"s":"d","t":2012,"v":0.14},
{"s":"e","t":1810,"v":0.2},{"s":"e","t":1814,"v":0.12},{"s":"e","t":1818,"v":0.25},{"s":"e","t":1822,"v":0.15},{"s":"e","t":1826,"v":0.08},{"s":"e","t":1830,"v":0.18},{"s":"e","t":1834,"v":0.26},{"s":"e","t":1838,"v":0.14},{"s":"e","t":1842,"v":0.2},{"s":"e","t":1846,"v":0.3},{"s":"e","t":1850,"v":0.16},{"s":"e","t":1854,"v":0.22},{"s":"e","t":1858,"v":0.12},{"s":"e","t":1862,"v":0.25},{"s":"e","t":1866,"v":0.18},{"s":"e","t":1870,"v":0.28},{"s":"e","t":1872,"v":0.76},{"s":"e","t":1875,"v":0.32},{"s":"e","t":1878,"v":0.2},{"s":"e","t":1882,"v":0.26},{"s":"e","t":1886,"v":0.14},{"s":"e","t":1890,"v":0.22},{"s":"e","t":1894,"v":0.1},{"s":"e","t":1898,"v":0.18},{"s":"e","t":1902,"v":0.12},{"s":"e","t":1906,"v":0.2},{"s":"e","t":1910,"v":0.14},{"s":"e","t":1914,"v":0.08},{"s":"e","t":1918,"v":0.16},{"s":"e","t":1922,"v":0.11},{"s":"e","t":1926,"v":0.19},{"s":"e","t":1930,"v":0.13},{"s":"e","t":1934,"v":0.21},{"s":"e","t":1938,"v":0.14},{"s":"e","t":1942,"v":0.24},{"s":"e","t":1946,"v":0.16},{"s":"e","t":1950,"v":0.22},{"s":"e","t":1954,"v":0.13},{"s":"e","t":1958,"v":0.2},{"s":"e","t":1962,"v":0.28},{"s":"e","t":1966,"v":0.16},{"s":"e","t":1970,"v":0.24},{"s":"e","t":1974,"v":0.14},{"s":"e","t":1978,"v":0.2},{"s":"e","t":1982,"v":0.12},{"s":"e","t":1986,"v":0.18},{"s":"e","t":1990,"v":0.24},{"s":"e","t":1994,"v":0.12},{"s":"e","t":1998,"v":0.17},{"s":"e","t":2002,"v":0.08},{"s":"e","t":2006,"v":0.14},{"s":"e","t":2010,"v":0.1},
{"s":"f","t":1830,"v":0.05},{"s":"f","t":1834,"v":0.1},{"s":"f","t":1838,"v":0.04},{"s":"f","t":1842,"v":0.12},{"s":"f","t":1846,"v":0.07},{"s":"f","t":1850,"v":0.14},{"s":"f","t":1854,"v":0.06},{"s":"f","t":1858,"v":0.11},{"s":"f","t":1862,"v":0.04},{"s":"f","t":1866,"v":0.09},{"s":"f","t":1870,"v":0.13},{"s":"f","t":1874,"v":0.06},{"s":"f","t":1878,"v":0.1},{"s":"f","t":1882,"v":0.05},{"s":"f","t":1886,"v":0.12},{"s":"f","t":1890,"v":0.07},{"s":"f","t":1894,"v":0.03},{"s":"f","t":1898,"v":0.09},{"s":"f","t":1902,"v":0.05},{"s":"f","t":1906,"v":0.11},{"s":"f","t":1910,"v":0.06},{"s":"f","t":1914,"v":0.12},{"s":"f","t":1918,"v":0.07},{"s":"f","t":1922,"v":0.04},{"s":"f","t":1926,"v":0.1},{"s":"f","t":1930,"v":0.06},{"s":"f","t":1934,"v":0.12},{"s":"f","t":1938,"v":0.05},{"s":"f","t":1942,"v":0.09},{"s":"f","t":1946,"v":0.13},{"s":"f","t":1950,"v":0.07},{"s":"f","t":1954,"v":0.11},{"s":"f","t":1958,"v":0.05},{"s":"f","t":1962,"v":0.1},{"s":"f","t":1966,"v":0.06},{"s":"f","t":1970,"v":0.12},{"s":"f","t":1974,"v":0.04},{"s":"f","t":1978,"v":0.09},{"s":"f","t":1982,"v":0.06},{"s":"f","t":1986,"v":0.11},{"s":"f","t":1990,"v":0.05},{"s":"f","t":1994,"v":0.09},{"s":"f","t":1998,"v":0.04},{"s":"f","t":2002,"v":0.1},{"s":"f","t":2006,"v":0.06},{"s":"f","t":2010,"v":0.09},
{"s":"g","t":1840,"v":0.22},{"s":"g","t":1844,"v":0.3},{"s":"g","t":1846,"v":0.42},{"s":"g","t":1848,"v":0.25},{"s":"g","t":1852,"v":0.18},{"s":"g","t":1856,"v":0.28},{"s":"g","t":1860,"v":0.2},{"s":"g","t":1864,"v":0.35},{"s":"g","t":1867,"v":0.24},{"s":"g","t":1870,"v":0.38},{"s":"g","t":1873,"v":0.28},{"s":"g","t":1877,"v":0.2},{"s":"g","t":1881,"v":0.3},{"s":"g","t":1885,"v":0.22},{"s":"g","t":1889,"v":0.16},{"s":"g","t":1893,"v":0.26},{"s":"g","t":1897,"v":0.18},{"s":"g","t":1901,"v":0.24},{"s":"g","t":1905,"v":0.16},{"s":"g","t":1909,"v":0.22},{"s":"g","t":1913,"v":0.15},{"s":"g","t":1917,"v":0.2},{"s":"g","t":1921,"v":0.26},{"s":"g","t":1925,"v":0.18},{"s":"g","t":1929,"v":0.3},{"s":"g","t":1932,"v":0.42},{"s":"g","t":1935,"v":0.25},{"s":"g","t":1939,"v":0.35},{"s":"g","t":1942,"v":0.22},{"s":"g","t":1945,"v":0.45},{"s":"g","t":1947,"v":0.5},{"s":"g","t":1949,"v":0.3},{"s":"g","t":1953,"v":0.22},{"s":"g","t":1957,"v":0.28},{"s":"g","t":1961,"v":0.2},{"s":"g","t":1965,"v":0.26},{"s":"g","t":1969,"v":0.18},{"s":"g","t":1973,"v":0.25},{"s":"g","t":1977,"v":0.16},{"s":"g","t":1981,"v":0.22},{"s":"g","t":1985,"v":0.28},{"s":"g","t":1989,"v":0.2},{"s":"g","t":1993,"v":0.26},{"s":"g","t":1997,"v":0.18},{"s":"g","t":2001,"v":0.22},{"s":"g","t":2005,"v":0.15},{"s":"g","t":2009,"v":0.2},{"s":"g","t":2012,"v":0.18},
{"s":"h","t":1960,"v":0.2},{"s":"h","t":1963,"v":0.35},{"s":"h","t":1966,"v":0.25},{"s":"h","t":1969,"v":0.4},{"s":"h","t":1972,"v":0.28},{"s":"h","t":1975,"v":0.45},{"s":"h","t":1977,"v":0.32},{"s":"h","t":1980,"v":0.5},{"s":"h","t":1982,"v":0.35},{"s":"h","t":1984,"v":0.55},{"s":"h","t":1986,"v":0.68},{"s":"h","t":1988,"v":0.7},{"s":"h","t":1990,"v":0.62},{"s":"h","t":1992,"v":0.58},{"s":"h","t":1994,"v":0.55},{"s":"h","t":1996,"v":0.5},{"s":"h","t":1998,"v":0.4},{"s":"h","t":2000,"v":0.3},{"s":"h","t":2003,"v":0.22},{"s":"h","t":2006,"v":0.18},{"s":"h","t":2009,"v":0.2},{"s":"h","t":2012,"v":0.19},
{"s":"i","t":1860,"v":0.08},{"s":"i","t":1864,"v":0.15},{"s":"i","t":1868,"v":0.1},{"s":"i","t":1872,"v":0.2},{"s":"i","t":1876,"v":0.12},{"s":"i","t":1880,"v":0.18},{"s":"i","t":1884,"v":0.08},{"s":"i","t":1888,"v":0.14},{"s":"i","t":1892,"v":0.2},{"s":"i","t":1896,"v":0.11},{"s":"i","t":1900,"v":0.06},{"s":"i","t":1904,"v":0.14},{"s":"i","t":1908,"v":0.2},{"s":"i","t":1912,"v":0.1},{"s":"i","t":1916,"v":0.17},{"s":"i","t":1920,"v":0.09},{"s":"i","t":1924,"v":0.15},{"s":"i","t":1928,"v":0.22},{"s":"i","t":1932,"v":0.12},{"s":"i","t":1936,"v":0.18},{"s":"i","t":1940,"v":0.26},{"s":"i","t":1944,"v":0.14},{"s":"i","t":1948,"v":0.2},{"s":"i","t":1952,"v":0.28},{"s":"i","t":1956,"v":0.16},{"s":"i","t":1960,"v":0.22},{"s":"i","t":1964,"v":0.14},{"s":"i","t":1968,"v":0.2},{"s":"i","t":1972,"v":0.3},{"s":"i","t":1976,"v":0.18},{"s":"i","t":1980,"v":0.24},{"s":"i","t":1984,"v":0.15},{"s":"i","t":1988,"v":0.22},{"s":"i","t":1992,"v":0.3},{"s":"i","t":1996,"v":0.2},{"s":"i","t":2000,"v":0.14},{"s":"i","t":2004,"v":0.22},{"s":"i","t":2008,"v":0.16},{"s":"i","t":2012,"v":0.2},
{"s":"j","t":1790,"v":0.1},{"s":"j","t":1793,"v":0.16},{"s":"j","t":1796,"v":0.08},{"s":"j","t":1799,"v":0.14},{"s":"j","t":1802,"v":0.2},{"s":"j","t":1805,"v":0.11},{"s":"j","t":1808,"v":0.17},{"s":"j","t":1811,"v":0.09},{"s":"j","t":1814,"v":0.15},{"s":"j","t":1817,"v":0.21},{"s":"j","t":1820,"v":0.12},{"s":"j","t":1823,"v":0.18},{"s":"j","t":1826,"v":0.1},{"s":"j","t":1829,"v":0.16},{"s":"j","t":1832,"v":0.22},{"s":"j","t":1835,"v":0.13},{"s":"j","t":1838,"v":0.19},{"s":"j","t":1841,"v":0.1},{"s":"j","t":1844,"v":0.16},{"s":"j","t":1847,"v":0.23},{"s":"j","t":1850,"v":0.13},{"s":"j","t":1853,"v":0.19},{"s":"j","t":1856,"v":0.11},{"s":"j","t":1859,"v":0.17},{"s":"j","t":1862,"v":0.24},{"s":"j","t":1865,"v":0.14},{"s":"j","t":1868,"v":0.2},{"s":"j","t":1871,"v":0.12},{"s":"j","t":1874,"v":0.18},{"s":"j","t":1877,"v":0.25},{"s":"j","t":1880,"v":0.14},{"s":"j","t":1883,"v":0.2},{"s":"j","t":1886,"v":0.11},{"s":"j","t":1889,"v":0.17},{"s":"j","t":1892,"v":0.22},{"s":"j","t":1895,"v":0.12},{"s":"j","t":1898,"v":0.18},{"s":"j","t":1901,"v":0.09},{"s":"j","t":1904,"v":0.15},{"s":"j","t":1907,"v":0.2},{"s":"j","t":1910,"v":0.11},{"s":"j","t":1913,"v":0.17},{"s":"j","t":1916,"v":0.08},{"s":"j","t":1919,"v":0.14},{"s":"j","t":1922,"v":0.2},{"s":"j","t":1925,"v":0.1},{"s":"j","t":1928,"v":0.16},{"s":"j","t":1931,"v":0.22},{"s":"j","t":1934,"v":0.12},{"s":"j","t":1937,"v":0.18},{"s":"j","t":1940,"v":0.1},{"s":"j","t":1943,"v":0.16},{"s":"j","t":1946,"v":0.24},{"s":"j","t":1949,"v":0.14},{"s":"j","t":1952,"v":0.2},{"s":"j","t":1955,"v":0.12},{"s":"j","t":1958,"v":0.18},{"s":"j","t":1961,"v":0.25},{"s":"j","t":1964,"v":0.15},{"s":"j","t":1967,"v":0.21},{"s":"j","t":1970,"v":0.12},{"s":"j","t":1973,"v":0.18},{"s":"j","t":1976,"v":0.24},{"s":"j","t":1979,"v":0.14},{"s":"j","t":1982,"v":0.2},{"s":"j","t":1985,"v":0.11},{"s":"j","t":1988,"v":0.17},{"s":"j","t":1991,"v":0.23},{"s":"j","t":1994,"v":0.13},{"s":"j","t":1997,"v":0.19},{"s":"j","t":2000,"v":0.1},{"s":"j","t":2003,"v":0.16},{"s":"j","t":2006,"v":0.21},{"s":"j","t":2009,"v":0.12},{"s":"j","t":2012,"v":0.18},
{"s":"k","t":1815,"v":0.18},{"s":"k","t":1818,"v":0.12},{"s":"k","t":1821,"v":0.2},{"s":"k","t":1824,"v":0.14},{"s":"k","t":1827,"v":0.25},{"s":"k","t":1830,"v":0.16},{"s":"k","t":1833,"v":0.1},{"s":"k","t":1836,"v":0.18},{"s":"k","t":1839,"v":0.26},{"s":"k","t":1842,"v":0.15},{"s":"k","t":1845,"v":0.2},{"s":"k","t":1848,"v":0.12},{"s":"k","t":1851,"v":0.22},{"s":"k","t":1854,"v":0.28},{"s":"k","t":1857,"v":0.16},{"s":"k","t":1860,"v":0.22},{"s":"k","t":1863,"v":0.13},{"s":"k","t":1866,"v":0.2},{"s":"k","t":1869,"v":0.27},{"s":"k","t":1872,"v":0.18},{"s":"k","t":1875,"v":0.24},{"s":"k","t":1878,"v":0.14},{"s":"k","t":1881,"v":0.2},{"s":"k","t":1884,"v":0.26},{"s":"k","t":1887,"v":0.15},{"s":"k","t":1890,"v":0.2},{"s":"k","t":1893,"v":0.12},{"s":"k","t":1896,"v":0.18},{"s":"k","t":1899,"v":0.1},{"s":"k","t":1902,"v":0.15},{"s":"k","t":1905,"v":0.08},{"s":"k","t":1908,"v":0.14},{"s":"k","t":1911,"v":0.19},{"s":"k","t":1914,"v":0.1},{"s":"k","t":1917,"v":0.15},{"s":"k","t":1920,"v":0.2},{"s":"k","t":1923,"v":0.12},{"s":"k","t":1926,"v":0.17},{"s":"k","t":1929,"v":0.1},{"s":"k","t":1932,"v":0.16},{"s":"k","t":1935,"v":0.22},{"s":"k","t":1938,"v":0.13},{"s":"k","t":1941,"v":0.19},{"s":"k","t":1944,"v":0.27},{"s":"k","t":1947,"v":0.17},{"s":"k","t":1950,"v":0.23},{"s":"k","t":1953,"v":0.14},{"s":"k","t":1956,"v":0.2},{"s":"k","t":1959,"v":0.28},{"s":"k","t":1962,"v":0.18},{"s":"k","t":1965,"v":0.24},{"s":"k","t":1968,"v":0.14},{"s":"k","t":1971,"v":0.2},{"s":"k","t":1974,"v":0.27},{"s":"k","t":1977,"v":0.16},{"s":"k","t":1980,"v":0.22},{"s":"k","t":1983,"v":0.13},{"s":"k","t":1986,"v":0.19},{"s":"k","t":1989,"v":0.25},{"s":"k","t":1992,"v":0.15},{"s":"k","t":1995,"v":0.2},{"s":"k","t":1998,"v":0.11},{"s":"k","t":2001,"v":0.16},{"s":"k","t":2004,"v":0.22},{"s":"k","t":2007,"v":0.12},{"s":"k","t":2010,"v":0.17},
{"s":"l","t":1780,"v":0.12},{"s":"l","t":1783,"v":0.2},{"s":"l","t":1786,"v":0.15},{"s":"l","t":1789,"v":0.22},{"s":"l","t":1792,"v":0.13},{"s":"l","t":1795,"v":0.26},{"s":"l","t":1798,"v":0.18},{"s":"l","t":1801,"v":0.3},{"s":"l","t":1804,"v":0.2},{"s":"l","t":1807,"v":0.14},{"s":"l","t":1810,"v":0.25},{"s":"l","t":1813,"v":0.18},{"s":"l","t":1816,"v":0.12},{"s":"l","t":1819,"v":0.2},{"s":"l","t":1822,"v":0.28},{"s":"l","t":1825,"v":0.17},{"s":"l","t":1828,"v":0.23},{"s":"l","t":1831,"v":0.14},{"s":"l","t":1834,"v":0.2},{"s":"l","t":1837,"v":0.3},{"s":"l","t":1840,"v":0.18},{"s":"l","t":1843,"v":0.24},{"s":"l","t":1846,"v":0.15},{"s":"l","t":1849,"v":0.22},{"s":"l","t":1852,"v":0.3},{"s":"l","t":1855,"v":0.2},{"s":"l","t":1858,"v":0.26},{"s":"l","t":1861,"v":0.16},{"s":"l","t":1864,"v":0.22},{"s":"l","t":1867,"v":0.3},{"s":"l","t":1870,"v":0.2},{"s":"l","t":1873,"v":0.26},{"s":"l","t":1876,"v":0.16},{"s":"l","t":1879,"v":0.22},{"s":"l","t":1882,"v":0.14},{"s":"l","t":1885,"v":0.2},{"s":"l","t":1888,"v":0.26},{"s":"l","t":1891,"v":0.15},{"s":"l","t":1894,"v":0.2},{"s":"l","t":1897,"v":0.12},{"s":"l","t":1900,"v":0.18}
]
},
"vconcat":[
{"width":956,"height":241,
 "layer":[
  {"data":{"name":"ven"},"mark":{"type":"line","clip":true},
   "encoding":{"x":{"field":"t","type":"quantitative","scale":{"domain":[1750,2013],"nice":false,"zero":false},"axis":null},
    "y":{"field":"v","type":"quantitative","scale":{"domain":[0,1],"nice":false},"axis":{"title":null,"values":[0,0.2,0.4,0.6,0.8,1],"tickSize":28,"labelPadding":15,"labelExpr":"datum.value == 0 ? '0' : (abs(datum.value-0.4)<0.01 || abs(datum.value-0.8)<0.01) ? format(datum.value,'.1f') : ''"}},
    "detail":{"field":"s"}}},
  {"data":{"values":[{}]},"mark":{"type":"text","text":"VEN","align":"left","baseline":"alphabetic","font":"Liberation Sans","fontSize":43,"color":"black"},
   "encoding":{"x":{"datum":1755.8},"y":{"datum":0.64}}}
 ]},
{"width":956,"height":241,
 "layer":[
  {"data":{"name":"vin"},"mark":{"type":"line","clip":true},
   "encoding":{"x":{"field":"t","type":"quantitative","scale":{"domain":[1750,2013],"nice":false,"zero":false},"axis":null},
    "y":{"field":"v","type":"quantitative","scale":{"domain":[0,1],"nice":false},"axis":{"title":"Ring Width (mm)","titleFontSize":38,"titlePadding":34,"values":[0,0.2,0.4,0.6,0.8,1],"tickSize":28,"labelPadding":15,"labelExpr":"(abs(datum.value-0.2)<0.01 || abs(datum.value-0.6)<0.01) ? format(datum.value,'.1f') : ''"}},
    "detail":{"field":"s"}}},
  {"data":{"values":[{}]},"mark":{"type":"text","text":"VIN","align":"left","baseline":"alphabetic","font":"Liberation Sans","fontSize":43,"color":"black"},
   "encoding":{"x":{"datum":1755.8},"y":{"datum":0.49}}}
 ]},
{"width":956,"height":241,
 "layer":[
  {"data":{"name":"cdl"},"mark":{"type":"line","clip":true},
   "encoding":{"x":{"field":"t","type":"quantitative","scale":{"domain":[1750,2013],"nice":false,"zero":false},"axis":{"title":"Year","titleFontSize":42,"titlePadding":0,"values":[1750,1800,1850,1900,1950,2000],"format":"d","tickSize":{"condition":{"test":"datum.value % 100 === 0","value":25},"value":13},"labelPadding":12,"labelFontSize":31,"labelExpr":"datum.value % 100 === 0 ? datum.label : ''"}},
    "y":{"field":"v","type":"quantitative","scale":{"domain":[0,1],"nice":false},"axis":{"title":null,"values":[0,0.2,0.4,0.6,0.8,1],"tickSize":28,"labelPadding":15,"labelExpr":"datum.value == 0 ? '0' : (abs(datum.value-0.4)<0.01 || abs(datum.value-0.8)<0.01) ? format(datum.value,'.1f') : ''"}},
    "detail":{"field":"s"}}},
  {"data":{"values":[{}]},"mark":{"type":"text","text":"CDL","align":"left","baseline":"alphabetic","font":"Liberation Sans","fontSize":43,"color":"black"},
   "encoding":{"x":{"datum":1755.8},"y":{"datum":0.46}}}
 ]}
]
}
